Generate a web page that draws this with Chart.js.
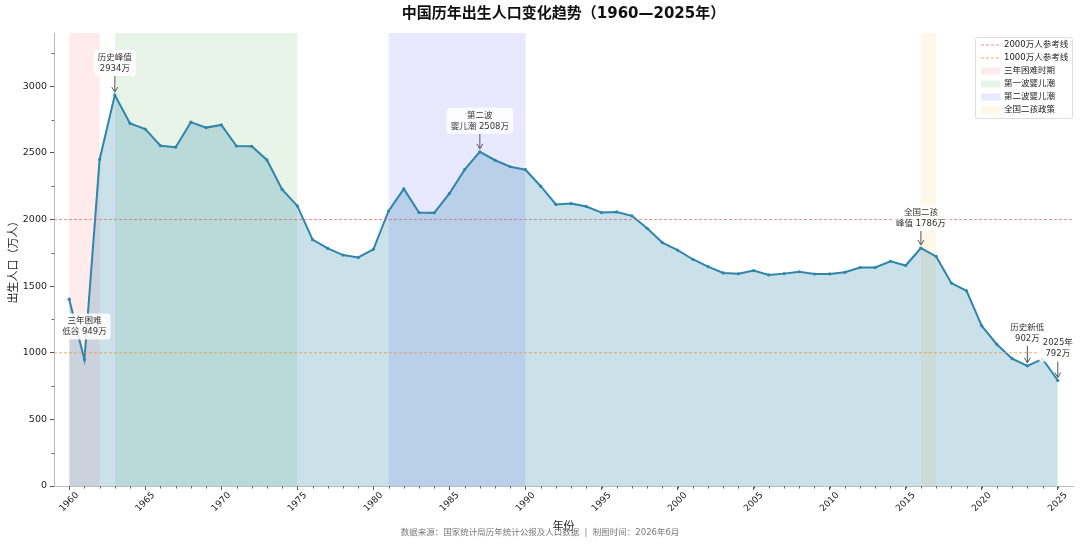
<!DOCTYPE html>
<html>
<head>
<meta charset="utf-8">
<script src="https://cdn.jsdelivr.net/npm/chart.js@4"></script>
<style>
  html, body { margin: 0; padding: 0; background: #fff; }
</style>
</head>
<body>
<canvas id="birthChart" width="1080" height="544"></canvas>
<script>
// data (万人)
const years = [1960, 1961, 1962, 1963, 1964, 1965, 1966, 1967, 1968, 1969,
  1970, 1971, 1972, 1973, 1974, 1975, 1976, 1977, 1978, 1979,
  1980, 1981, 1982, 1983, 1984, 1985, 1986, 1987, 1988, 1989,
  1990, 1991, 1992, 1993, 1994, 1995, 1996, 1997, 1998, 1999,
  2000, 2001, 2002, 2003, 2004, 2005, 2006, 2007, 2008, 2009,
  2010, 2011, 2012, 2013, 2014, 2015, 2016, 2017, 2018, 2019,
  2020, 2021, 2022, 2023, 2024, 2025];
const births = [1402, 949, 2451, 2934, 2721, 2679, 2554, 2543, 2731, 2690,
  2710, 2551, 2550, 2447, 2226, 2102, 1849, 1783, 1733, 1715,
  1776, 2064, 2230, 2052, 2050, 2196, 2374, 2508, 2445, 2396,
  2374, 2250, 2113, 2120, 2098, 2052, 2057, 2028, 1934, 1827,
  1771, 1702, 1647, 1599, 1593, 1617, 1584, 1594, 1608, 1591,
  1592, 1604, 1640, 1640, 1687, 1655, 1786, 1723, 1523, 1465,
  1202, 1062, 956, 902, 954, 792];
const xTicks = [1960, 1965, 1970, 1975, 1980, 1985, 1990, 1995, 2000, 2005, 2010, 2015, 2020, 2025];
const yTicks = [0, 500, 1000, 1500, 2000, 2500, 3000];

const refValues = [2000, 1000];
const refLabels = ["2000万人参考线", "1000万人参考线"];
const periodStart = [1960, 1963, 1981, 2016];
const periodEnd = [1962, 1975, 1990, 2017];
const periodLabels = ["三年困难时期", "第一波婴儿潮", "第二波婴儿潮", "全国二孩政策"];
const noteYears = [1961, 1963, 1987, 2016, 2023, 2025];
const noteTexts = [
  ["三年困难", "低谷 949万"],
  ["历史峰值", "2934万"],
  ["第二波", "婴儿潮 2508万"],
  ["全国二孩", "峰值 1786万"],
  ["历史新低", "902万"],
  ["2025年", "792万"],
];

// styles
const FONT = "'DejaVu Sans', 'Noto Sans CJK SC', sans-serif";
const lineColor = "#2E86AB";
const refColors = ["rgba(215,90,90,0.65)", "rgba(235,150,60,0.75)"];
const periodColors = ["rgba(255,0,0,0.08)", "rgba(0,128,0,0.09)", "rgba(0,0,255,0.09)", "rgba(255,165,0,0.09)"];
const noteShift = [-33, -32, -31, -30, -33, -32];
const noteArrow = [false, true, true, true, true, true];

function drawNote(ctx, x, y, lines, dy, arrow) {
  ctx.font = "8.5px " + FONT;
  const lh = 11;
  const cy = y + dy;
  const w = Math.max(...lines.map((l) => ctx.measureText(l).width)) + 8;
  const h = lines.length * lh + 4;
  if (arrow) {
    ctx.strokeStyle = "#555";
    ctx.lineWidth = 1;
    ctx.beginPath();
    ctx.moveTo(x, cy + h / 2);
    ctx.lineTo(x, y - 3);
    ctx.stroke();
    ctx.beginPath();
    ctx.moveTo(x - 3, y - 8);
    ctx.lineTo(x, y - 3);
    ctx.lineTo(x + 3, y - 8);
    ctx.stroke();
  }
  ctx.fillStyle = "rgba(255,255,255,0.85)";
  ctx.beginPath();
  ctx.roundRect(x - w / 2, cy - h / 2, w, h, 3);
  ctx.fill();
  ctx.fillStyle = "#333";
  ctx.textAlign = "center";
  ctx.textBaseline = "middle";
  lines.forEach((l, i) => {
    ctx.fillText(l, x, cy - ((lines.length - 1) * lh) / 2 + i * lh);
  });
}

const decorPlugin = {
  id: "decor",
  beforeDatasetsDraw(chart) {
    const { ctx, chartArea: a, scales } = chart;
    ctx.save();
    ctx.beginPath();
    ctx.rect(a.left, a.top, a.right - a.left, a.bottom - a.top);
    ctx.clip();
    periodStart.forEach((s, i) => {
      const x1 = scales.x.getPixelForValue(s);
      const x2 = scales.x.getPixelForValue(periodEnd[i]);
      ctx.fillStyle = periodColors[i];
      ctx.fillRect(x1, a.top, x2 - x1, a.bottom - a.top);
    });
    ctx.restore();
  },
  afterDatasetsDraw(chart) {
    const { ctx, chartArea: a, scales } = chart;
    ctx.save();
    // reference lines
    ctx.setLineDash([3, 2]);
    ctx.lineWidth = 1;
    refValues.forEach((v, i) => {
      const y = scales.y.getPixelForValue(v);
      ctx.strokeStyle = refColors[i];
      ctx.beginPath();
      ctx.moveTo(a.left, y);
      ctx.lineTo(a.right, y);
      ctx.stroke();
    });
    ctx.setLineDash([]);
    // annotations
    noteYears.forEach((yr, i) => {
      const v = births[years.indexOf(yr)];
      const x = scales.x.getPixelForValue(yr);
      const y = scales.y.getPixelForValue(v);
      drawNote(ctx, x, y, noteTexts[i], noteShift[i], noteArrow[i]);
    });
    // legend
    const lx = a.right - 98, ly = a.top + 4, lw = 97, lh = 81;
    ctx.fillStyle = "rgba(255,255,255,0.9)";
    ctx.strokeStyle = "#ddd";
    ctx.lineWidth = 1;
    ctx.beginPath();
    ctx.roundRect(lx + 0.5, ly + 0.5, lw, lh, 2);
    ctx.fill();
    ctx.stroke();
    ctx.font = "8.5px " + FONT;
    ctx.textAlign = "left";
    ctx.textBaseline = "middle";
    const rows = refLabels.length + periodLabels.length;
    for (let i = 0; i < rows; i++) {
      const ry = ly + 8 + i * 13;
      if (i < refLabels.length) {
        ctx.setLineDash([3, 2]);
        ctx.strokeStyle = refColors[i];
        ctx.beginPath();
        ctx.moveTo(lx + 6, ry);
        ctx.lineTo(lx + 25, ry);
        ctx.stroke();
        ctx.setLineDash([]);
      } else {
        ctx.fillStyle = periodColors[i - refLabels.length];
        ctx.fillRect(lx + 6, ry - 3.5, 19, 7);
      }
      ctx.fillStyle = "#222";
      ctx.fillText(i < refLabels.length ? refLabels[i] : periodLabels[i - refLabels.length], lx + 29, ry);
    }
    ctx.restore();
  },
  afterDraw(chart) {
    const { ctx, chartArea: a, scales } = chart;
    ctx.save();
    // minor ticks
    ctx.strokeStyle = "#666";
    ctx.lineWidth = 1;
    ctx.beginPath();
    years.forEach((yr) => {
      const x = Math.round(scales.x.getPixelForValue(yr)) + 0.5;
      ctx.moveTo(x, a.bottom);
      ctx.lineTo(x, a.bottom + 2.5);
    });
    for (let v = 250; v < scales.y.max; v += 500) {
      const y = Math.round(scales.y.getPixelForValue(v)) + 0.5;
      ctx.moveTo(a.left, y);
      ctx.lineTo(a.left - 2.5, y);
    }
    ctx.stroke();
    // x tick labels, rotated and centred on the tick
    ctx.font = "9px " + FONT;
    ctx.fillStyle = "#222";
    ctx.textAlign = "center";
    ctx.textBaseline = "middle";
    scales.x.ticks.forEach((t) => {
      const x = scales.x.getPixelForValue(t.value);
      ctx.save();
      ctx.translate(x, a.bottom + 16);
      ctx.rotate(-Math.PI / 4);
      ctx.fillText(String(t.value), 0, 0);
      ctx.restore();
    });
    // axis titles
    ctx.font = "11px " + FONT;
    ctx.fillStyle = "#222";
    ctx.fillText("年份", (a.left + a.right) / 2, 527);
    ctx.save();
    ctx.translate(14, (a.top + a.bottom) / 2);
    ctx.rotate(-Math.PI / 2);
    ctx.fillText("出生人口（万人）", 0, 0);
    ctx.restore();
    // title
    ctx.font = "bold 15px " + FONT;
    ctx.fillStyle = "#111";
    ctx.fillText("中国历年出生人口变化趋势（1960—2025年）", (a.left + a.right) / 2, 14);
    // footer
    ctx.font = "8.5px " + FONT;
    ctx.fillStyle = "#777";
    ctx.fillText("数据来源：国家统计局历年统计公报及人口数据  |  制图时间：2026年6月", 540, 533);
    ctx.restore();
  },
};

const ctx = document.getElementById("birthChart").getContext("2d");
const birthChart = new Chart(ctx, {
  type: "line",
  data: {
    datasets: [
      {
        label: "出生人口",
        data: years.map((yr, i) => ({ x: yr, y: births[i] })),
        borderColor: lineColor,
        backgroundColor: "rgba(46,134,171,0.25)",
        borderWidth: 2,
        pointRadius: 1.6,
        pointBackgroundColor: lineColor,
        pointBorderWidth: 0,
        fill: "origin",
        tension: 0,
      },
    ],
  },
  options: {
    responsive: false,
    animation: false,
    layout: { padding: { top: 33, right: 7, left: 0, bottom: 0 } },
    plugins: {
      legend: { display: false },
      title: { display: false },
      tooltip: { enabled: false },
    },
    scales: {
      x: {
        type: "linear",
        min: 1959,
        max: 2026,
        afterBuildTicks: (s) => { s.ticks = xTicks.map((v) => ({ value: v })); },
        afterFit: (s) => { s.height = 58; },
        ticks: { display: false },
        grid: { drawOnChartArea: false, tickLength: 4, color: "#555" },
        border: { color: "#bbb" },
      },
      y: {
        min: 0,
        max: 3400,
        afterBuildTicks: (s) => { s.ticks = yTicks.map((v) => ({ value: v })); },
        afterFit: (s) => { s.width = 54; },
        ticks: {
          font: { size: 9.5, family: FONT },
          color: "#222",
          padding: 3,
          callback: (v) => String(v),
        },
        grid: { drawOnChartArea: false, tickLength: 4, color: "#555" },
        border: { color: "#bbb" },
      },
    },
  },
  plugins: [decorPlugin],
});
</script>
</body>
</html>
